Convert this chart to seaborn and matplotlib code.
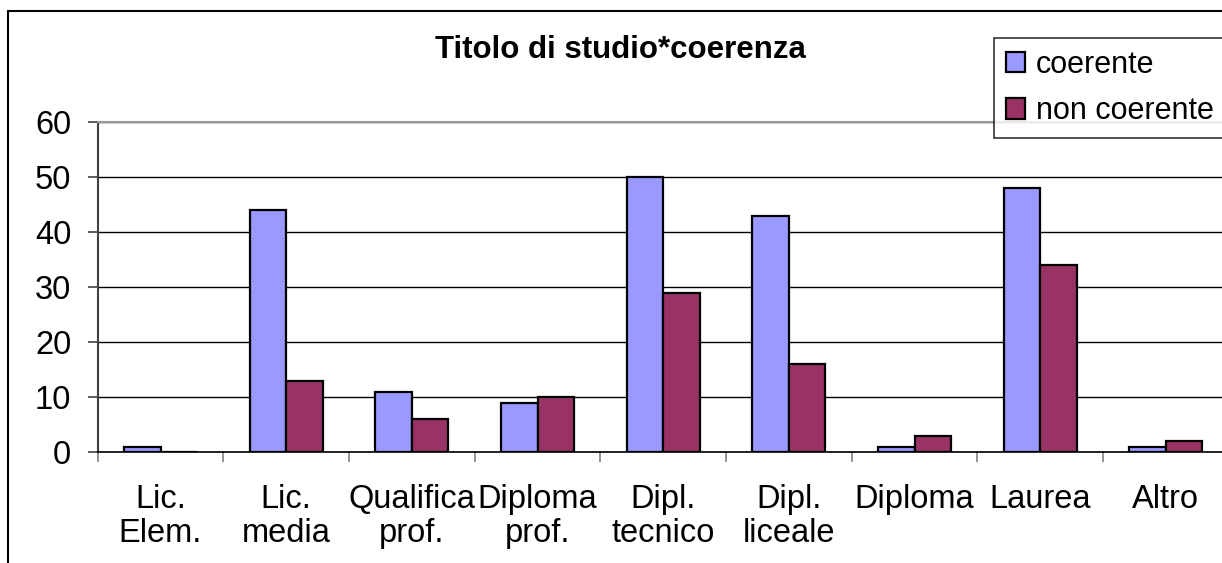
import pandas as pd
import seaborn as sns
import matplotlib.pyplot as plt
from matplotlib.lines import Line2D

# values
categories = ["Lic.\nElem.", "Lic.\nmedia", "Qualifica\nprof.", "Diploma\nprof.",
              "Dipl.\ntecnico", "Dipl.\nliceale", "Diploma", "Laurea", "Altro"]
coerente = [1, 44, 11, 9, 50, 43, 1, 48, 1]
non_coerente = [0, 13, 6, 10, 29, 16, 3, 34, 2]
series = ["coerente", "non coerente"]
colors = ["#9999FF", "#993366"]

df = pd.DataFrame({
    "titolo": categories * 2,
    "valore": coerente + non_coerente,
    "coerenza": [series[0]] * len(categories) + [series[1]] * len(categories),
})

sns.set_style("white")
plt.rcParams["font.family"] = ["Liberation Sans", "DejaVu Sans"]
plt.rcParams["text.color"] = "black"

W, H = 1222, 563
fig = plt.figure(figsize=(W / 100, H / 100), dpi=100)
ax = fig.add_axes([97.7 / W, 1 - 452 / H, 1131 / W, 330 / H])

sns.barplot(data=df, x="titolo", y="valore", hue="coerenza", order=categories,
            hue_order=series, palette=colors, saturation=1, width=0.58,
            edgecolor="black", linewidth=1.6, ax=ax, zorder=3)

ax.set_xlim(-0.5, len(categories) - 0.5)
ax.set_ylim(0, 60)
ax.set_yticks(range(0, 61, 10))
ax.set_xlabel("")
ax.set_ylabel("")

# grid and spines like the Excel look
ax.set_axisbelow(True)
ax.yaxis.grid(True, color="black", linewidth=1)
ax.spines["right"].set_visible(False)
ax.spines["top"].set_visible(True)
ax.spines["top"].set_color("#999999")
ax.spines["top"].set_linewidth(1.5)
ax.spines["left"].set_color("#404040")
ax.spines["left"].set_linewidth(1.5)
ax.spines["bottom"].set_color("black")
ax.spines["bottom"].set_linewidth(1.2)

ax.tick_params(axis="y", left=True, length=7, width=1.2, color="#404040",
               pad=12, labelsize=23.5, labelcolor="black")
ax.tick_params(axis="x", which="major", bottom=False, length=0, pad=23,
               labelsize=23.5, labelcolor="black")
ax.set_xticks([i - 0.5 for i in range(len(categories) + 1)], minor=True)
ax.tick_params(axis="x", which="minor", bottom=True, length=7, width=1.2, color="#808080")
for lab in ax.get_xticklabels():
    lab.set_linespacing(1.13)

handles, labels = ax.get_legend_handles_labels()
leg = ax.legend(handles, labels, loc="upper left",
                bbox_to_anchor=(994 / W, 1 - 38 / H), bbox_transform=fig.transFigure,
                fontsize=22, frameon=True, fancybox=False, edgecolor="black",
                handlelength=0.65, handleheight=0.65, handletextpad=0.33,
                borderpad=0.38, labelspacing=0.55, borderaxespad=0)
leg.get_frame().set_linewidth(1.2)

fig.text(620 / W, 1 - 50 / H, "Titolo di studio*coerenza", ha="center", va="center",
         fontsize=22.5, fontweight="bold")

# outer chart frame (cut off at right and bottom)
fig.add_artist(Line2D([8 / W, 8 / W], [0, 1 - 11 / H], color="black", lw=1.5,
                      transform=fig.transFigure))
fig.add_artist(Line2D([8 / W, 1], [1 - 11 / H, 1 - 11 / H], color="black", lw=1.5,
                      transform=fig.transFigure))

fig.savefig("out.png", dpi=100)
